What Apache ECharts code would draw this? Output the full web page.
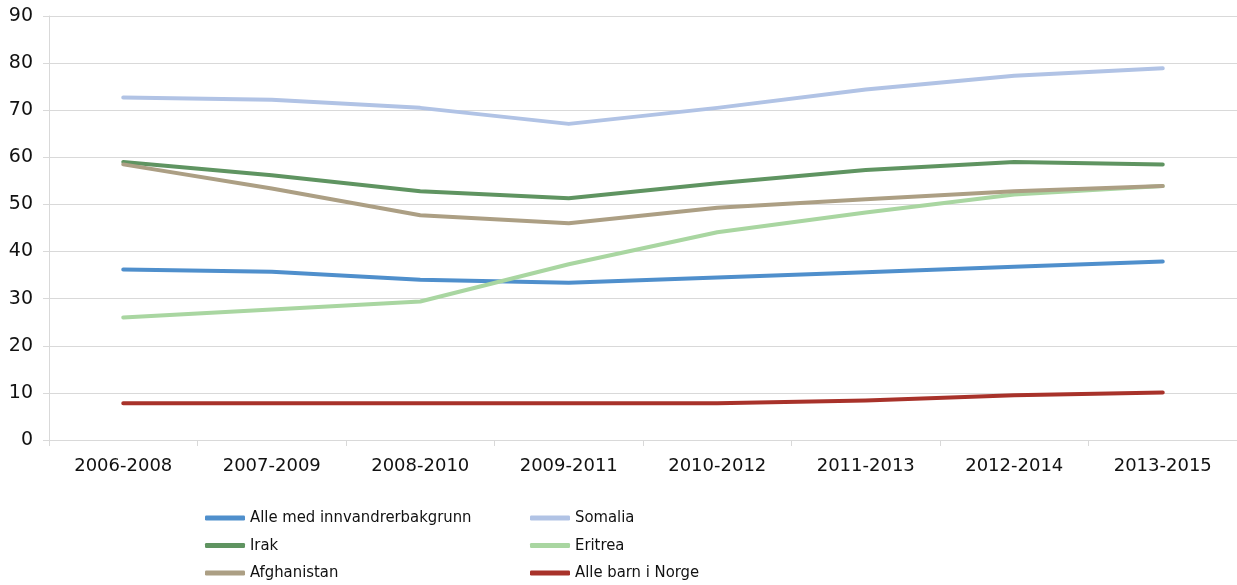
<!DOCTYPE html>
<html><head><meta charset="utf-8">
<script src="https://cdn.jsdelivr.net/npm/echarts@6/dist/echarts.min.js"></script>
<style>html,body{margin:0;padding:0;background:#fff}#c{width:1237px;height:585px}</style>
</head><body><div id="c"></div>
<script>
var categories = ['2006-2008','2007-2009','2008-2010','2009-2011','2010-2012','2011-2013','2012-2014','2013-2015'];
var yTicks = [0,10,20,30,40,50,60,70,80,90];
var alle = [36.2, 35.7, 34.0, 33.4, 34.5, 35.6, 36.8, 37.9];
var somalia = [72.7, 72.2, 70.5, 67.1, 70.5, 74.4, 77.3, 78.9];
var irak = [59.0, 56.2, 52.8, 51.3, 54.5, 57.3, 59.0, 58.5];
var eritrea = [26.0, 27.7, 29.4, 37.3, 44.1, 48.3, 52.1, 53.9];
var afghanistan = [58.5, 53.4, 47.7, 46.0, 49.3, 51.1, 52.8, 53.9];
var alleBarn = [7.8, 7.8, 7.8, 7.8, 7.8, 8.4, 9.5, 10.1];
var seriesNames = ['Alle med innvandrerbakgrunn','Somalia','Irak','Eritrea','Afghanistan','Alle barn i Norge'];
var colors = ['#4f8fcc','#b1c3e5','#5f9461','#a9d6a1','#ac9f84','#a8322a'];
var values = [alle, somalia, irak, eritrea, afghanistan, alleBarn];

var chart = echarts.init(document.getElementById('c'), null, {renderer:'canvas'});
var series = seriesNames.map(function(n,i){
  return {name:n, type:'line', data:values[i], symbol:'none', smooth:false,
    lineStyle:{color:colors[i], width:4, cap:'round', join:'round'}, itemStyle:{color:colors[i]}};
});
var legendText = {fontFamily:'DejaVu Sans Condensed', fontSize:16.5, color:'#111', lineHeight:18, padding:[0,0,0,0]};
chart.setOption({
  animation:false,
  textStyle:{fontFamily:'DejaVu Sans'},
  grid:{left:49, right:0, top:16, bottom:145, containLabel:false},
  xAxis:{type:'category', data:categories, boundaryGap:true,
    axisLine:{lineStyle:{color:'#d9d9d9', width:1}},
    axisTick:{show:true, length:6, lineStyle:{color:'#d9d9d9'}, alignWithLabel:false},
    axisLabel:{fontFamily:'DejaVu Sans', fontSize:18, color:'#111', margin:17},
    splitLine:{show:false}},
  yAxis:{type:'value', min:yTicks[0], max:yTicks[yTicks.length-1], interval:10,
    axisLine:{show:true, lineStyle:{color:'#d9d9d9', width:1}},
    axisTick:{show:true, length:6, inside:false, lineStyle:{color:'#d9d9d9'}},
    axisLabel:{fontFamily:'DejaVu Sans', fontSize:19, color:'#111', margin:16, padding:[6,0,0,0]},
    splitLine:{lineStyle:{color:'#d9d9d9', width:1}}},
  legend:[
    {orient:'vertical', left:205, top:509, height:80, padding:0, itemWidth:40, itemHeight:5, itemGap:9.5, icon:'roundRect',
     textStyle:legendText, data:[seriesNames[0], seriesNames[2], seriesNames[4]]},
    {orient:'vertical', left:530, top:509, height:80, padding:0, itemWidth:40, itemHeight:5, itemGap:9.5, icon:'roundRect',
     textStyle:legendText, data:[seriesNames[1], seriesNames[3], seriesNames[5]]}
  ],
  series:series
});
</script></body></html>
